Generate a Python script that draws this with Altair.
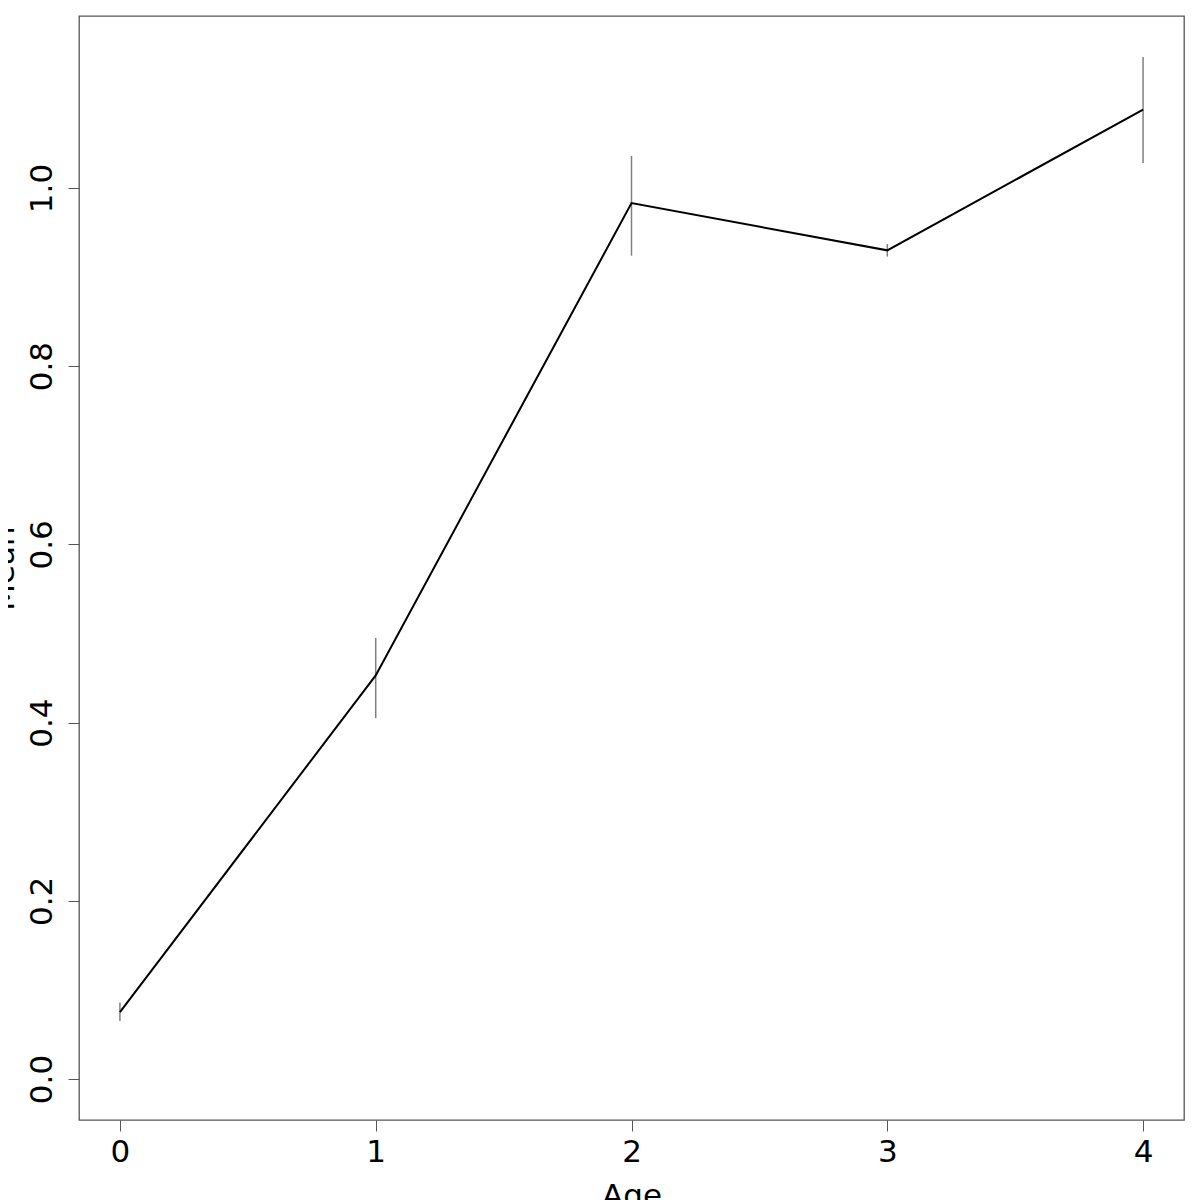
import altair as alt
import pandas as pd

ages = [0, 1, 2, 3, 4]
means = [0.075, 0.453, 0.983, 0.930, 1.088]
lows = [0.065, 0.405, 0.924, 0.923, 1.028]
highs = [0.086, 0.495, 1.036, 0.937, 1.147]
x_ticks = [0, 1, 2, 3, 4]
y_ticks = [0.0, 0.2, 0.4, 0.6, 0.8, 1.0]

df = pd.DataFrame({"Age": ages, "Mean": means, "lo": lows, "hi": highs})

W, H = 1105, 1104
FONT = "DejaVu Sans"

xscale = alt.Scale(domain=[-0.16, 4.16], nice=False, zero=False)
yscale = alt.Scale(domain=[-0.046, 1.193], nice=False, zero=False)

xaxis = alt.Axis(values=x_ticks, format="d", grid=False, domain=False,
                 tickSize=11, tickColor="#555555", tickWidth=1,
                 labelFont=FONT, labelFontSize=31, labelColor="black",
                 labelPadding=6, title="Age", titleFont=FONT,
                 titleFontSize=31, titleFontWeight="normal", titleColor="black",
                 titlePadding=14)
yaxis = alt.Axis(values=y_ticks, format=".1f", grid=False, domain=False,
                 tickSize=11, tickColor="#555555", tickWidth=1,
                 labelFont=FONT, labelFontSize=31, labelColor="black",
                 labelAngle=-90, labelAlign="center", labelBaseline="alphabetic",
                 labelPadding=17, title="Mean", titleFont=FONT,
                 titleFontSize=31, titleFontWeight="normal", titleColor="black",
                 titleAngle=-90, titleAlign="center", titleBaseline="alphabetic",
                 titleX=-66, titleY=H / 2)

base = alt.Chart(df)

bars = base.mark_rule(color="#808080", strokeWidth=1.5).encode(
    x=alt.X("Age:Q", scale=xscale, axis=xaxis),
    y=alt.Y("lo:Q", scale=yscale, axis=yaxis),
    y2="hi:Q",
)

line = base.mark_line(color="black", strokeWidth=2).encode(
    x=alt.X("Age:Q", scale=xscale),
    y=alt.Y("Mean:Q", scale=yscale),
)

chart = (bars + line).properties(
    width=W, height=H,
    background="white",
    autosize=alt.AutoSizeParams(type="none"),
    padding={"left": 71, "top": 8, "right": 8, "bottom": 90},
).configure_view(stroke="#555555", strokeWidth=1.3)

chart.save("out.html", embed_options={"renderer": "svg", "actions": False})
